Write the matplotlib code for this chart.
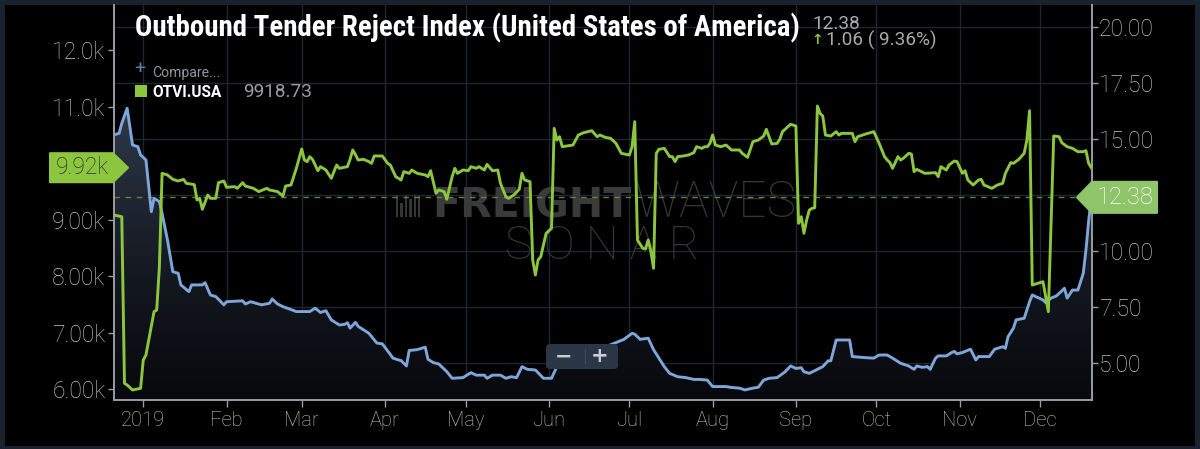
import numpy as np
import pandas as pd
import matplotlib
matplotlib.use('Agg')
import matplotlib.pyplot as plt
import matplotlib.dates as mdates
from matplotlib.colors import LinearSegmentedColormap
from matplotlib.patches import Polygon, FancyBboxPatch, Rectangle
from matplotlib.transforms import IdentityTransform

plt.rcParams['font.family'] = ['Roboto', 'DejaVu Sans']

# ---- data ----
base = pd.Timestamp('2019-01-01')

# OTRI.USA  -- outbound tender reject index, right axis (blue)
otri_day = [-11, -9, -8, -6, -4, -2, -1, 1, 3, 4, 6, 7, 9, 11, 13, 14, 17, 18, 22, 23,
            25, 27, 30, 31, 37, 38, 40, 44, 47, 48, 50, 52, 57, 62, 64, 66, 68, 70, 73, 75,
            76, 77, 79, 80, 84, 87, 89, 93, 95, 96, 98, 99, 102, 105, 106, 108, 110, 113, 115, 119,
            122, 124, 127, 128, 130, 133, 135, 137, 139, 141, 143, 146, 149, 152, 154, 177, 179, 182, 183, 185,
            188, 190, 192, 194, 196, 199, 202, 205, 207, 210, 212, 217, 219, 222, 224, 227, 229, 231, 233, 236,
            239, 241, 243, 245, 246, 248, 251, 253, 255, 256, 258, 263, 264, 269, 272, 274, 277, 279, 282, 285,
            287, 288, 290, 292, 293, 295, 296, 299, 301, 302, 303, 305, 308, 310, 311, 315, 317, 320, 321, 322,
            324, 325, 328, 329, 330, 331, 333, 335, 336, 338, 340, 341, 343, 344, 346, 348, 350, 351, 352, 353]
otri = [15.17, 15.24, 15.69, 16.36, 14.72, 14.64, 14.27, 14.05, 11.74, 12.34, 12.19, 11.67, 10.48, 9.06, 8.99, 8.47, 8.17, 8.47, 8.47, 8.57,
        8.02, 7.95, 7.58, 7.72, 7.76, 7.62, 7.72, 7.58, 7.65, 7.84, 7.62, 7.50, 7.28, 7.28, 7.43, 7.24, 7.32, 6.91, 6.68, 6.71,
        6.78, 6.54, 6.80, 6.62, 6.31, 5.87, 5.84, 5.20, 5.12, 5.09, 4.85, 5.54, 5.58, 5.69, 5.15, 5.00, 4.94, 4.60, 4.30, 4.33,
        4.55, 4.44, 4.44, 4.30, 4.44, 4.44, 4.30, 4.37, 4.33, 4.82, 4.70, 4.67, 4.30, 4.30, 4.82, 5.94, 6.04, 6.31, 6.27, 6.04,
        6.09, 5.58, 5.20, 4.82, 4.52, 4.37, 4.33, 4.25, 4.25, 4.22, 3.93, 3.93, 3.89, 3.86, 3.78, 3.86, 3.90, 4.22, 4.30, 4.33,
        4.59, 4.85, 4.74, 4.77, 4.59, 4.52, 4.70, 4.82, 5.08, 5.08, 6.01, 6.01, 5.27, 5.22, 5.20, 5.34, 5.34, 5.20, 4.97, 4.85,
        4.70, 4.85, 4.79, 4.82, 4.70, 5.20, 5.30, 5.30, 5.45, 5.50, 5.39, 5.45, 5.60, 5.12, 5.27, 5.27, 5.60, 5.71, 5.64, 6.16,
        6.54, 6.91, 6.98, 7.35, 7.72, 8.02, 7.91, 7.80, 7.68, 7.88, 7.98, 8.09, 8.32, 7.88, 8.24, 8.24, 8.99, 10.03, 11.32, 12.38]

# OTVI.USA -- outbound tender volume index, left axis (green)
otvi_day = [-11, -8, -7, -6, -4, -1, 0, 1, 4, 5, 6, 7, 9, 11, 13, 15, 16, 19, 20, 21,
            22, 24, 25, 27, 28, 30, 31, 34, 35, 37, 38, 41, 43, 46, 47, 50, 52, 53, 55, 57,
            59, 60, 61, 62, 63, 65, 66, 68, 70, 72, 73, 76, 77, 78, 79, 80, 82, 84, 85, 86,
            89, 91, 92, 94, 96, 97, 99, 100, 102, 105, 106, 107, 109, 110, 112, 113, 115, 116, 117, 119,
            121, 122, 124, 125, 127, 128, 130, 132, 133, 135, 136, 138, 140, 141, 142, 144, 145, 146, 147, 148,
            150, 152, 153, 154, 155, 156, 160, 162, 164, 167, 169, 170, 172, 174, 176, 178, 181, 182, 183, 184,
            186, 187, 188, 189, 190, 191, 192, 194, 196, 197, 198, 199, 201, 203, 205, 206, 208, 209, 210, 211,
            212, 213, 215, 217, 219, 222, 223, 225, 227, 229, 231, 232, 234, 236, 237, 238, 240, 241, 243, 244,
            245, 246, 247, 248, 249, 250, 251, 252, 253, 254, 256, 258, 259, 260, 264, 265, 266, 269, 272, 274,
            276, 277, 278, 279, 281, 282, 283, 285, 286, 287, 288, 291, 295, 296, 297, 299, 300, 302, 303, 305,
            306, 307, 309, 311, 312, 313, 316, 318, 320, 321, 323, 324, 326, 328, 329, 330, 331, 333, 335, 336,
            337, 339, 341, 342, 344, 346, 348, 350, 351, 352, 353]
otvi = [9082, 9052, 6106, 6076, 5988, 6018, 6518, 6607, 7372, 7402, 8168, 9819, 9790, 9713, 9684, 9713, 9643, 9620, 9347, 9377,
        9183, 9436, 9377, 9377, 9654, 9684, 9572, 9584, 9554, 9654, 9595, 9554, 9496, 9554, 9525, 9496, 9418, 9595, 9613, 9908,
        10250, 10055, 10026, 10114, 10067, 9866, 9937, 9878, 9731, 9966, 9908, 9937, 10067, 10232, 10150, 10055, 10067, 10026, 9996, 10126,
        10126, 9996, 9966, 9760, 9702, 9849, 9819, 9878, 9819, 9790, 9760, 9866, 9466, 9525, 9496, 9360, 9760, 9908, 9819, 9878,
        9866, 9937, 9908, 9937, 9878, 9978, 9866, 9878, 9643, 9406, 9377, 9436, 9537, 9819, 9702, 9672, 8287, 8021, 8287, 8345,
        8759, 8847, 10615, 10408, 10467, 10290, 10320, 10497, 10538, 10573, 10467, 10497, 10456, 10438, 10349, 10173, 10143, 10290, 10733, 8640,
        8493, 8480, 8640, 8440, 8140, 10173, 10243, 10261, 10114, 10114, 10026, 10114, 10126, 10143, 10185, 10290, 10261, 10290, 10290, 10349,
        10497, 10320, 10290, 10320, 10232, 10232, 10173, 10102, 10379, 10408, 10479, 10597, 10338, 10349, 10420, 10556, 10644, 10686, 10656, 8935,
        9052, 8759, 8994, 9170, 9200, 9210, 11010, 10880, 10833, 10497, 10479, 10556, 10497, 10526, 10526, 10379, 10467, 10515, 10556, 10349,
        10114, 10055, 10008, 9908, 10114, 10055, 10085, 10173, 10161, 9849, 9890, 9819, 9831, 9760, 9937, 9878, 9966, 10037, 10026, 9819,
        9866, 9702, 9613, 9702, 9713, 9613, 9554, 9613, 9643, 9819, 10008, 9996, 10067, 10173, 10408, 10927, 7844, 7873, 7903, 7638,
        7373, 10479, 10467, 10361, 10290, 10261, 10202, 10202, 10220, 9996, 9918.73]

month_ticks = pd.date_range('2019-01-01', periods=12, freq='MS')
month_labels = ['2019', 'Feb', 'Mar', 'Apr', 'May', 'Jun', 'Jul', 'Aug', 'Sep', 'Oct', 'Nov', 'Dec']
right_ticks = [5.0, 7.5, 10.0, 12.5, 15.0, 17.5, 20.0]
# the 12.50 label sits fully under the last-value tag in the original
right_labels = ['5.00', '7.50', '10.00', '', '15.00', '17.50', '20.00']
left_ticks = [6000, 7000, 8000, 9000, 10000, 11000, 12000]
left_labels = ['6.00k', '7.00k', '8.00k', '9.00k', '10.0k', '11.0k', '12.0k']
title = 'Outbound Tender Reject Index (United States of America)'

otri_dates = base + pd.to_timedelta(otri_day, unit='D')
otvi_dates = base + pd.to_timedelta(otvi_day, unit='D')
x0 = base + pd.Timedelta(days=-10.9)
x1 = base + pd.Timedelta(days=353.25)
r_lim = (3.33, 20.97)
l_lim = (5811, 12796)

# ---- colours ----
BORDER = '#1a222d'
GRID = '#1c2733'
SPINE = '#9a9ea3'
TICK = '#c2c2c2'
BLUE = '#7ea6d8'
GREEN = '#8cc63f'

W, H = 1200, 449
fig = plt.figure(figsize=(12, 4.49), dpi=100, facecolor=BORDER)
ident = IdentityTransform()


def px(x, y):
    # picture pixel (from top left) -> display coords
    return x, H - y


def fit(t, width):
    r = fig.canvas.get_renderer()
    w = t.get_window_extent(r).width
    t.set_fontsize(t.get_fontsize() * width / w)


fig.add_artist(Rectangle(px(5, 446), 1190, 441, transform=ident,
                         facecolor='black', edgecolor='none', zorder=-5))

ax = fig.add_axes([114 / W, 1 - 400 / H, (1092 - 114) / W, (400 - 5) / H])
ax.set_facecolor('black')
ax2 = ax.twinx()
ax.yaxis.tick_right()
ax2.yaxis.tick_left()

ax.set_xlim(x0, x1)
ax.set_ylim(*r_lim)
ax2.set_ylim(*l_lim)

# gradient area under the blue line
poly = ax.fill_between(otri_dates, otri, r_lim[0], facecolor='none', edgecolor='none')
cmap = LinearSegmentedColormap.from_list('area', [(0, '#08090d'), (0.3, '#13171f'), (1, '#3e4c61')])
grad = np.linspace(0, 1, 256).reshape(-1, 1)
img = ax.imshow(grad, extent=[mdates.date2num(x0), mdates.date2num(x1), r_lim[0], r_lim[1]],
                origin='lower', aspect='auto', cmap=cmap, zorder=1, interpolation='bilinear')
img.set_clip_path(poly.get_paths()[0], transform=ax.transData)
ax.set_xlim(x0, x1)
ax.set_ylim(*r_lim)

ax.plot(otri_dates, otri, color=BLUE, lw=2.1, zorder=3)
ax.axhline(otri[-1], color='#5f8537', lw=1.0, ls=(0, (4, 4)), zorder=2)
ax2.plot(otvi_dates, otvi, color=GREEN, lw=2.1, zorder=3)

# axes, ticks, grid
ax.set_xticks(month_ticks, month_labels, fontsize=14.5, fontweight='light', color=TICK)
ax.set_yticks(right_ticks, right_labels, fontsize=16.5, fontweight='light', color=TICK)
ax2.set_yticks(left_ticks, left_labels, fontsize=16.5, fontweight='light', color=TICK)
ax.tick_params(axis='x', length=5, width=1, color=SPINE, pad=3)
ax.tick_params(axis='y', length=4, width=1, color=SPINE, pad=1.2)
ax2.tick_params(axis='y', length=4, width=1, color=SPINE, pad=2.2)
ax.grid(True, color=GRID, lw=1.0)
ax.set_axisbelow(True)
for a in (ax, ax2):
    a.spines['top'].set_visible(False)
    for s in ('left', 'right', 'bottom'):
        a.spines[s].set_color(SPINE)
        a.spines[s].set_linewidth(1.2)

# watermark
wm = '#363636'
t = ax.text(*px(432, 217), 'FREIGHT', transform=ident, fontsize=24, fontweight='bold',
            family=['DejaVu Sans'], color='#3a3a3a', zorder=1.5)
fit(t, 200)
t = ax.text(*px(635, 217), 'WAVES', transform=ident, fontsize=24, fontweight=100,
            family=['Roboto'], color=wm, zorder=1.5)
fit(t, 162)
t = ax.text(*px(505, 259), 'S O N A R', transform=ident, fontsize=26, fontweight=100,
            color=wm, zorder=1.5)
fit(t, 195)
for i, hgt in enumerate([22, 14, 22, 18, 22, 22]):
    ax.add_artist(Rectangle(px(396 + i * 4.4, 217), 2.4, hgt, transform=ident,
                            facecolor=wm, edgecolor='none', zorder=1.5))

# title block
t = fig.text(*px(135, 36.7), title, transform=ident, fontsize=19, fontweight='bold', color='white',
             family=['Roboto Condensed', 'Liberation Sans Narrow', 'DejaVu Sans Condensed', 'Roboto'],
             va='baseline')
fit(t, 665)
chg = otri[-1] - otri[-2]
t = fig.text(*px(812, 29), f'{otri[-1]:.2f}', transform=ident, fontsize=12.5, color='#a9a9a9', va='baseline')
fit(t, 48)
fig.text(*px(817.5, 40.5), '\u2191', transform=ident, fontsize=10, fontweight='bold', color=GREEN,
         family=['DejaVu Sans'], ha='center', va='center')
t = fig.text(*px(826, 46), f'{chg:.2f} ( {chg / otri[-2] * 100:.2f}%)', transform=ident, fontsize=12.5,
             color='#a9a9a9', va='baseline')
fit(t, 110)

# legend
fig.text(*px(140, 69), '+', transform=ident, fontsize=14, color='#5d80ab', ha='center', va='center')
t = fig.text(*px(152, 77), 'Compare...', transform=ident, fontsize=11, color='#8f969d', va='baseline')
fit(t, 68)
fig.add_artist(Rectangle(px(135, 97), 12, 12, transform=ident, facecolor=GREEN, edgecolor='none'))
t = fig.text(*px(152.5, 97), 'OTVI.USA', transform=ident, fontsize=12, fontweight='bold', color='white',
             va='baseline')
fit(t, 70)
t = fig.text(*px(243, 97), f'{otvi[-1]:.2f}', transform=ident, fontsize=12, color='#9c9c9c', va='baseline')
fit(t, 69)

# last-value tags
xnum = mdates.date2num(x1)
yl = ax2.transData.transform((xnum, otvi[-1]))[1]
yr = ax.transData.transform((xnum, otri[-1]))[1]
fig.add_artist(Polygon([(50, yl - 14.5), (113, yl - 14.5), (128, yl), (113, yl + 14.5), (50, yl + 14.5)],
                       closed=True, transform=ident, facecolor=GREEN, edgecolor=GREEN, lw=1.5,
                       joinstyle='round', zorder=5))
fig.text(82, yl, f'{otvi[-1] / 1000:.2f}k', transform=ident, fontsize=16.5, fontweight='light',
         color='#2b2b2b', ha='center', va='center', zorder=6)
fig.add_artist(Polygon([(1077, yr), (1092, yr + 15.5), (1157, yr + 15.5), (1157, yr - 15.5), (1092, yr - 15.5)],
                       closed=True, transform=ident, facecolor='#8fc46b', edgecolor='#8fc46b', lw=1.5,
                       joinstyle='round', zorder=5))
fig.text(1125, yr, f'{otri[-1]:.2f}', transform=ident, fontsize=17, fontweight='light',
         color='white', ha='center', va='center', zorder=6)

# zoom control
fig.add_artist(FancyBboxPatch(px(546, 369), 72, 25, boxstyle='round,pad=0,rounding_size=4',
                              transform=ident, facecolor='#2b3747', edgecolor='none', zorder=5))
fig.add_artist(Rectangle(px(584.5, 364), 1, 15, transform=ident, facecolor='#3e4b5c',
                         edgecolor='none', zorder=6))
fig.text(*px(564, 356.5), '\u2212', transform=ident, fontsize=15, fontweight='bold', color='#c8ccd2',
         family=['DejaVu Sans'], ha='center', va='center', zorder=6)
fig.text(*px(600, 356.5), '+', transform=ident, fontsize=15, fontweight='bold', color='#c8ccd2',
         family=['DejaVu Sans'], ha='center', va='center', zorder=6)

fig.savefig('out.png', dpi=100, facecolor=BORDER)
